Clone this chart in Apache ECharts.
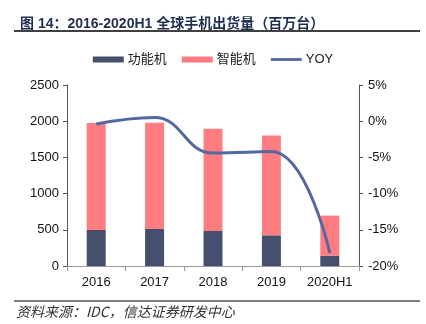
<!DOCTYPE html>
<html><head><meta charset="utf-8">
<script src="https://cdn.jsdelivr.net/npm/echarts@6/dist/echarts.min.js"></script>
<style>html,body{margin:0;padding:0;background:#fff}#c{width:426px;height:324px}</style>
</head><body><div id="c"></div>
<script>
const categories = ['2016', '2017', '2018', '2019', '2020H1'];
const featurePhones = [498, 512, 484, 424, 142];
const smartPhones = [1476, 1468, 1411, 1378, 554];
const yoy = [-0.4, 0.5, -4.4, -4.2, -18.2];
const leftTicks = {min: 0, max: 2500, interval: 500};
const rightTicks = {min: -20, max: 5, interval: 5};

const chart = echarts.init(document.getElementById('c'));
const font = '"Liberation Sans", Arial, "Noto Sans CJK SC", sans-serif';
chart.setOption({
  animation: false,
  textStyle: {fontFamily: font},
  title: {
    text: '图 14：2016-2020H1 全球手机出货量（百万台）',
    left: 15, top: 12,
    textStyle: {fontSize: 14, fontWeight: 'bold', color: '#1F2E52', fontFamily: font}
  },
  graphic: [
    {type: 'line', shape: {x1: 14, y1: 31, x2: 420, y2: 31}, style: {stroke: '#000', lineWidth: 1.5}},
    {type: 'line', shape: {x1: 14, y1: 301, x2: 420, y2: 301}, style: {stroke: '#000', lineWidth: 1.2}},
    {type: 'text', left: 16, top: 305, style: {text: '资料来源：IDC，信达证券研发中心', fill: '#333', font: 'italic 14px "Noto Sans CJK SC", sans-serif'}}
  ],
  legend: {
    top: 48, left: 'center', itemGap: 15,
    itemWidth: 31, itemHeight: 6,
    textStyle: {fontSize: 13, color: '#222', padding: [0, 0, 0, -1]},
    data: [
      {name: '功能机', icon: 'rect'},
      {name: '智能机', icon: 'rect'},
      {name: 'YOY', icon: 'path://M0,0 L33,0 L33,3 L0,3 Z', itemStyle: {color: '#5468A0'}}
    ]
  },
  grid: {left: 67, right: 67, top: 85, bottom: 58},
  xAxis: {
    type: 'category', data: categories,
    axisLine: {lineStyle: {color: '#999', width: 1}},
    axisTick: {show: true, alignWithLabel: false, length: 5, lineStyle: {color: '#999'}},
    axisLabel: {fontSize: 13, color: '#111', margin: 10, interval: 0}
  },
  yAxis: [
    {
      type: 'value', min: leftTicks.min, max: leftTicks.max, interval: leftTicks.interval,
      axisLine: {show: true, lineStyle: {color: '#555'}},
      axisTick: {show: true, length: 4, lineStyle: {color: '#555'}},
      splitLine: {show: false},
      axisLabel: {fontSize: 13, color: '#111', margin: 8, formatter: v => String(v)}
    },
    {
      type: 'value', min: rightTicks.min, max: rightTicks.max, interval: rightTicks.interval,
      position: 'right',
      axisLine: {show: true, lineStyle: {color: '#555'}},
      axisTick: {show: true, length: 4, lineStyle: {color: '#555'}},
      splitLine: {show: false},
      axisLabel: {fontSize: 13, color: '#111', margin: 9, formatter: '{value}%'}
    }
  ],
  series: [
    {name: '功能机', type: 'bar', stack: 'a', data: featurePhones, barWidth: 19,
     itemStyle: {color: '#464F6E'}},
    {name: '智能机', type: 'bar', stack: 'a', data: smartPhones, barWidth: 19,
     itemStyle: {color: '#FF7C80'}},
    {name: 'YOY', type: 'line', yAxisIndex: 1, data: yoy, smooth: 0.45,
     symbol: 'none', lineStyle: {color: '#5468A0', width: 3}, itemStyle: {color: '#5468A0'}}
  ]
});
</script></body></html>
